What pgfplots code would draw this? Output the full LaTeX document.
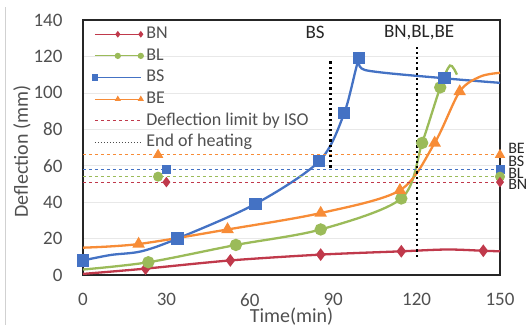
\documentclass[border=0pt]{standalone}
\usepackage{fontspec}
\setmainfont{Carlito}
\usepackage{pgfplots}
\pgfplotsset{compat=1.18}
\definecolor{cBN}{RGB}{192,57,75}
\definecolor{cBL}{RGB}{155,187,89}
\definecolor{cBS}{RGB}{68,114,196}
\definecolor{cBE}{RGB}{247,140,55}
\definecolor{txt}{RGB}{80,80,80}
\begin{document}
\begin{tikzpicture}
\path[use as bounding box] (-83pt,-54pt) rectangle (445pt,275pt);
\draw[black!18, line width=0.8pt] (-77.5pt,-50pt) -- (-77.5pt,268pt);
\begin{axis}[
 at={(0pt,0pt)}, anchor=south west,
 scale only axis, width=417pt, height=255pt,
 xmin=0, xmax=150, ymin=0, ymax=140,
 xtick={0,30,...,150}, ytick={0,20,...,140},
 major tick length=0pt,
 ymajorgrids, grid style={black!9, line width=0.6pt},
 axis line style={black!85, line width=1.3pt},
 tick label style={font=\fontsize{19}{22}\selectfont, text=txt},
 /pgf/number format/assume math mode=true,
 yticklabel style={xshift=-17pt},
 xticklabel style={yshift=-15pt},
 xlabel={Time(min)}, ylabel={Deflection (mm)},
 label style={font=\fontsize{20}{24}\selectfont, text=txt},
 xlabel style={at={(axis description cs:0.5,-0.188)}, anchor=base},
 ylabel style={at={(axis description cs:-0.1463,0.484)}, anchor=center},
 clip=false,
 legend style={at={(axis description cs:0.0216,0.982)}, anchor=north west, draw=none, fill=none, inner sep=0pt,
   font=\fontsize{18}{21}\selectfont, text=txt, row sep=2.6pt, column sep=2pt,
   nodes={inner sep=1pt, text height=13pt, text depth=4pt}},
 legend cell align=left,
 legend image code/.code={\draw[mark repeat=2,mark phase=2,#1] plot coordinates {(0pt,0pt) (23pt,0pt) (46pt,0pt)};},
 legend image post style={mark size=2.6pt, line width=1pt},
]
% data series
\addplot[cBN, line width=2.3pt, smooth, mark=diamond*, mark size=4.5pt, mark indices={2,3,4,5,7}]
 coordinates {(0,0.6)(22.5,3.5)(53,8)(85.5,11.2)(114.5,13)(131,14)(144,13.3)(150,13)};
\addlegendentry{BN}
\addplot[cBL, line width=2.3pt, smooth, mark=*, mark size=5pt, mark indices={2,3,4,5,6,7}]
 coordinates {(0,3)(23.5,7)(55,16.5)(85.5,25)(114.5,42)(122,72.5)(128.5,103)(132,115)(134.5,110)};
\addlegendentry{BL}
\addplot[cBS, line width=2.3pt, smooth, mark=square*, mark size=5pt, mark indices={1,4,5,6,7,8,10}]
 coordinates {(0,8)(10,11)(21,13)(34,20)(62,39)(85,62.5)(94,89)(99.3,119)(101.5,112.5)(130,108)(150,105.5)};
\addlegendentry{BS}
\addplot[cBE, line width=2.3pt, smooth, mark=triangle*, mark size=5pt, mark indices={2,3,4,5,6,7}]
 coordinates {(0,15)(20,17)(52,25)(85.5,34)(114,46.5)(126.5,72.5)(135.5,100.7)(143,109)(150,111)};
\addlegendentry{BE}
% deflection limits
\addplot[cBE, dashed, line width=1pt, mark=triangle*, mark size=5pt, mark options={solid}, mark indices={2,3}, forget plot]
 coordinates {(0,66)(27,66)(150,66)};
\addplot[cBS, dashed, line width=1pt, mark=square*, mark size=4pt, mark options={solid}, mark indices={2,3}, forget plot]
 coordinates {(0,58)(30,58)(150,58)};
\addplot[cBL, dashed, line width=1pt, mark=*, mark size=4.5pt, mark options={solid}, mark indices={2,3}, forget plot]
 coordinates {(0,54)(27,54)(150,54)};
\addplot[cBN, dashed, line width=1pt, mark=diamond*, mark size=4.5pt, mark options={solid}, mark indices={2,3}, forget plot]
 coordinates {(0,51)(30,51)(150,51)};
\addlegendimage{cBN, dashed, line width=1pt}
\addlegendentry{Deflection limit by ISO}
\addlegendimage{black!70, dotted, line width=1pt}
\addlegendentry{End of heating}
% end of heating
\addplot[black, line width=2.2pt, dash pattern=on 2.2pt off 3pt, forget plot] coordinates {(89,59)(89,118)};
\addplot[black, line width=2.2pt, dash pattern=on 2.2pt off 3pt, forget plot] coordinates {(120,10)(120,127)};
\node[font=\fontsize{19}{22}\selectfont, anchor=east, inner sep=0pt, text=black!85] at (axis cs:87,133) {BS};
\node[font=\fontsize{19}{22}\selectfont, inner sep=0pt, text=black!85] at (axis cs:120.9,133) {BN,BL,BE};
\node[font=\fontsize{16}{18}\selectfont, anchor=west, inner sep=0pt, text=black!85] at (axis cs:152.9,69.5) {BE};
\node[font=\fontsize{16}{18}\selectfont, anchor=west, inner sep=0pt, text=black!85] at (axis cs:152.9,62.5) {BS};
\node[font=\fontsize{16}{18}\selectfont, anchor=west, inner sep=0pt, text=black!85] at (axis cs:152.9,56) {BL};
\node[font=\fontsize{16}{18}\selectfont, anchor=west, inner sep=0pt, text=black!85] at (axis cs:152.9,49.5) {BN};
\end{axis}
\end{tikzpicture}
\end{document}
